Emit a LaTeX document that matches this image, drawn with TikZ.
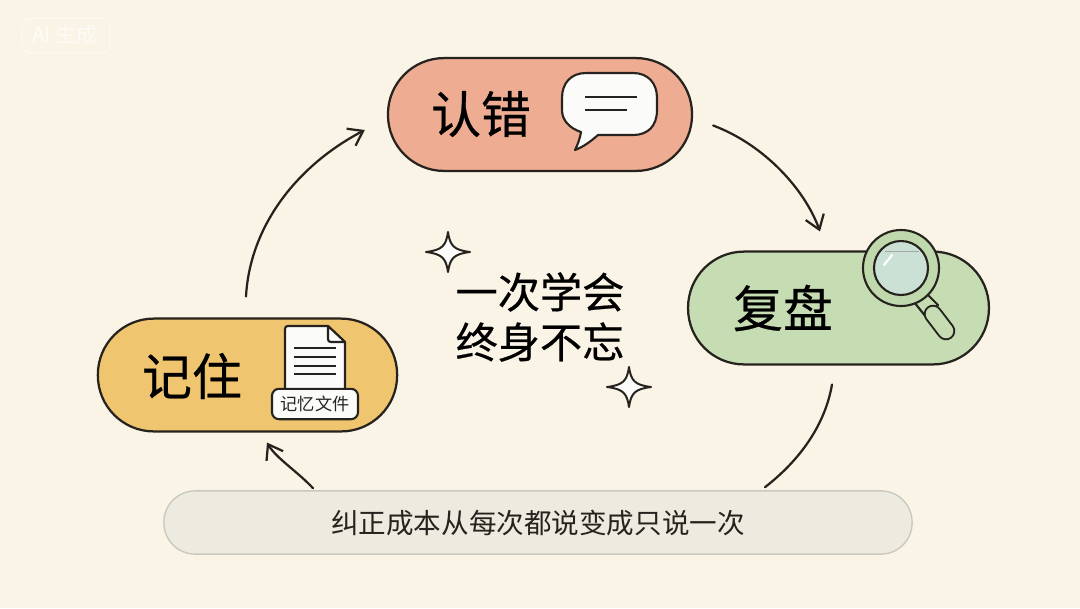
\documentclass[tikz,border=0pt]{standalone}
\usepackage{fontspec}
\newfontfamily\cjk{Noto Sans CJK SC}
\newfontfamily\cjkheavy[FakeBold=0.5]{Noto Sans CJK SC}
\usetikzlibrary{arrows.meta}
\definecolor{paper}{HTML}{F9F4E6}
\definecolor{ink}{HTML}{26231E}
\definecolor{salmon}{HTML}{EEAC93}
\definecolor{sage}{HTML}{C6DCB2}
\definecolor{ringsage}{HTML}{BFD8AC}
\definecolor{honey}{HTML}{F0C570}
\definecolor{barfill}{HTML}{EDEAE0}
\definecolor{barline}{HTML}{CBC9BE}
\definecolor{lens}{HTML}{CCE1D6}
\definecolor{sheet}{HTML}{FBFBF9}
\tikzset{
  pill/.style={draw=ink, line width=1.6pt, rounded corners=1.4cm, minimum height=2.82cm},
  pilltext/.style={font=\cjkheavy\fontsize{35.5}{40}\selectfont, text=black},
  flow/.style={draw=ink, line width=1.6pt, line cap=round},
  barb/.style={-{Straight Barb[length=3.4mm, width=4.8mm, line width=1.6pt]}},
  icon/.style={draw=ink, line width=1.5pt, fill=sheet, line join=round},
  iconline/.style={draw=ink, line width=1.4pt},
}
\begin{document}
\begin{tikzpicture}[x=0.025cm, y=-0.025cm, font=\cjk]
    \useasboundingbox (0,0) rectangle (1080,608);
    \fill[paper] (0,0) rectangle (1080,608);
    % watermark
    \draw[white!45!paper, line width=0.8pt, rounded corners=6pt] (22,18) rectangle (110,53);
    \node[text=white!60!paper, font=\cjk\fontsize{15}{18}\selectfont] (mark) at (65,35) {AI 生成};
    % pills
    \node[pill, fill=salmon, minimum width=7.6cm] (mistake) at (540,114.5) {};
    \node[pill, fill=sage, minimum width=7.52cm] (review) at (838.5,308) {};
    \node[pill, fill=honey, minimum width=7.48cm] (recall) at (247.5,375) {};
    \node[draw=barline, fill=barfill, line width=1pt, rounded corners=0.78cm, minimum width=18.7cm, minimum height=1.58cm,
      font=\cjk\fontsize{19.6}{24}\selectfont, text=ink] (fixbar) at (538,522.5) {纠正成本从每次都说变成只说一次};
    \node[pilltext] (mistaketext) at (481,114) {认错};
    \node[pilltext] (reviewtext) at (783,308) {复盘};
    \node[pilltext] (recalltext) at (192,376) {记住};
    % connectors
    \draw[flow, barb] ([shift={(-1.5,-21)}]recall.north) .. controls (250,225) and (298,165) .. ([shift={(-22,15.5)}]mistake.west);
    \draw[flow, barb] ([shift={(20,11)}]mistake.east) .. controls (765,145) and (805,190) .. ([shift={(-18.5,-19)}]review.north);
    \draw[flow] ([shift={(-6.5,19)}]review.south) .. controls (825,425) and (800,460) .. ([shift={(227,-3)}]fixbar.north);
    \draw[flow, barb] ([shift={(-225,-2)}]fixbar.north) .. controls (298,472) and (276,458) .. ([shift={(19.5,10)}]recall.south);
    % speech bubble
    \draw[icon] (586,73) -- (633,73) .. controls (648,73) and (657,83) .. (657,98)
      -- (657,110) .. controls (657,126) and (648,135) .. (633,135)
      -- (598,135) .. controls (590,142) and (583,147) .. (575,150)
      .. controls (578,144) and (580,138) .. (581,132)
      .. controls (569,128) and (562,120) .. (562,110)
      -- (562,98) .. controls (562,83) and (571,73) .. (586,73) -- cycle;
    \draw[iconline] (585,97) -- (637,97);
    \draw[iconline] (585,110) -- (627,110);
    % magnifier
    \draw[icon, fill=sage] (914,302) -- (926,293) -- (938,305) -- (926,317) -- cycle;
    \draw[ink, line width=13.2pt, line cap=round] (933,314) -- (946,331);
    \draw[sage, line width=10.4pt, line cap=round] (933,314) -- (946,331);
    \draw[icon, fill=ringsage] (901,268) circle (38);
    \draw[icon, fill=lens] (901,268) circle (27);
    \draw[black!35, line width=0.5pt] (885,251) -- (919,251);
    \draw[white, line width=1.5pt, line cap=round] (884,265) -- (892,255);
    % document
    \draw[icon] (285,329) .. controls (285,327) and (286,326) .. (288,326) -- (328,326) -- (345,342) -- (345,395) -- (285,395) -- cycle;
    \draw[icon] (328,326) -- (328,339) .. controls (328,341) and (329,342) .. (331,342) -- (345,342) -- cycle;
    \foreach \liney in {348,357,366,374}
      \draw[iconline] (294,\liney) -- (336,\liney);
    \node[icon, rounded corners=5pt, minimum width=2.15cm, minimum height=0.76cm, inner sep=0pt,
      font=\cjk\fontsize{12.2}{14}\selectfont, text=ink] (memfile) at (315,404) {记忆文件};
    % centre
    \node[align=center, font=\cjkheavy\fontsize{30}{35.5}\selectfont, text=black] (slogan) at (540,317) {一次学会\\终身不忘};
    \foreach \cx/\cy in {448/252, 629/387}
      \draw[icon, fill=sheet, line width=1.4pt] (\cx,\cy-20) .. controls (\cx+2,\cy-6) and (\cx+6,\cy-2) .. (\cx+22,\cy)
        .. controls (\cx+6,\cy+2) and (\cx+2,\cy+6) .. (\cx,\cy+20)
        .. controls (\cx-2,\cy+6) and (\cx-6,\cy+2) .. (\cx-22,\cy)
        .. controls (\cx-6,\cy-2) and (\cx-2,\cy-6) .. (\cx,\cy-20) -- cycle;
\end{tikzpicture}
\end{document}
